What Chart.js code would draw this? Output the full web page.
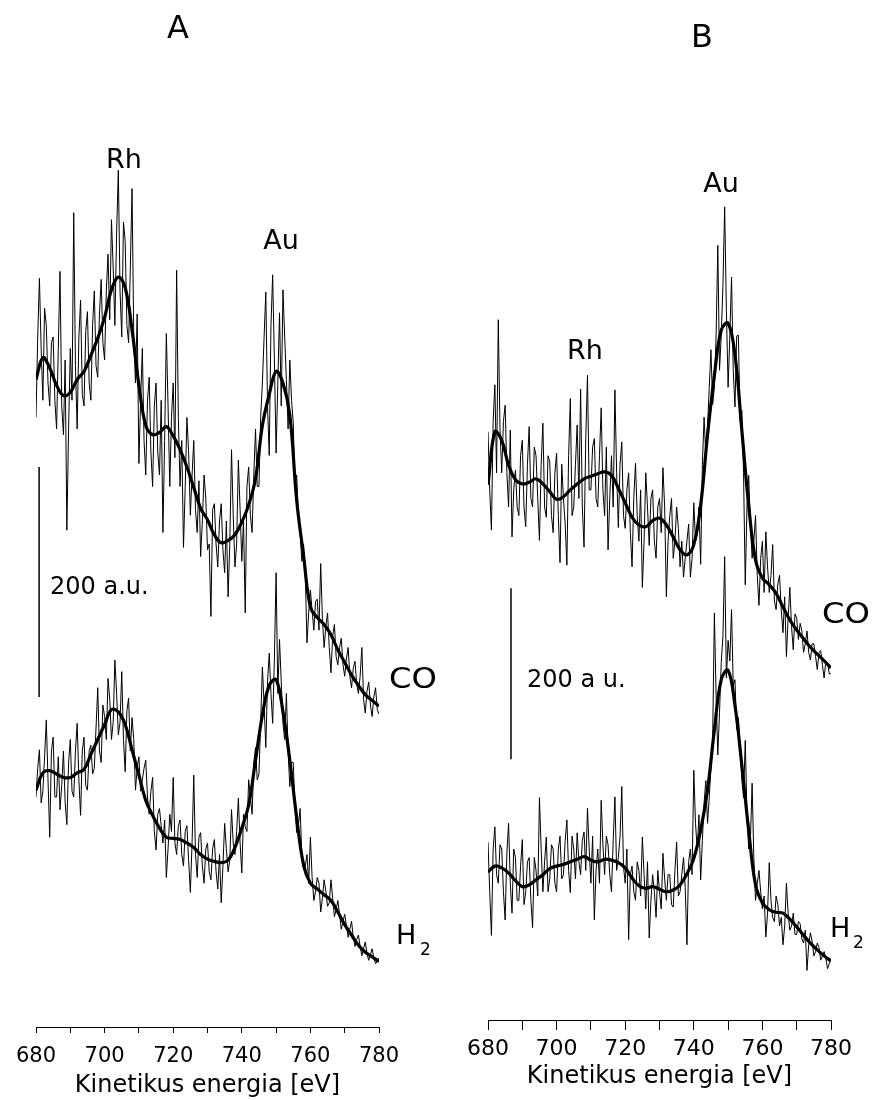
<!DOCTYPE html>
<html>
<head>
<meta charset="utf-8">
<script src="https://cdn.jsdelivr.net/npm/chart.js@4/dist/chart.umd.min.js"></script>
<style>
  html, body { margin: 0; padding: 0; background: #fff; }
  #wrap { position: relative; width: 873px; height: 1100px; }
  #wrap canvas { position: absolute; top: 0; }
  #panelA { left: 0; }
  #panelB { left: 450px; }
</style>
</head>
<body>
<div id="wrap">
  <canvas id="panelA" width="450" height="1100"></canvas>
  <canvas id="panelB" width="423" height="1100"></canvas>
</div>
<script>
// Kinetic energy grids (eV). Raw spectra are sampled every 0.5 eV and kept as
// two interleaved sets (whole and half eV); smoothed fits are given every 2 eV.
const energyWhole = [
  680,681,682,683,684,685,686,687,688,689,
  690,691,692,693,694,695,696,697,698,699,
  700,701,702,703,704,705,706,707,708,709,
  710,711,712,713,714,715,716,717,718,719,
  720,721,722,723,724,725,726,727,728,729,
  730,731,732,733,734,735,736,737,738,739,
  740,741,742,743,744,745,746,747,748,749,
  750,751,752,753,754,755,756,757,758,759,
  760,761,762,763,764,765,766,767,768,769,
  770,771,772,773,774,775,776,777,778,779,
  780
];
const energyHalf = [
  680.5,681.5,682.5,683.5,684.5,685.5,686.5,687.5,688.5,689.5,
  690.5,691.5,692.5,693.5,694.5,695.5,696.5,697.5,698.5,699.5,
  700.5,701.5,702.5,703.5,704.5,705.5,706.5,707.5,708.5,709.5,
  710.5,711.5,712.5,713.5,714.5,715.5,716.5,717.5,718.5,719.5,
  720.5,721.5,722.5,723.5,724.5,725.5,726.5,727.5,728.5,729.5,
  730.5,731.5,732.5,733.5,734.5,735.5,736.5,737.5,738.5,739.5,
  740.5,741.5,742.5,743.5,744.5,745.5,746.5,747.5,748.5,749.5,
  750.5,751.5,752.5,753.5,754.5,755.5,756.5,757.5,758.5,759.5,
  760.5,761.5,762.5,763.5,764.5,765.5,766.5,767.5,768.5,769.5,
  770.5,771.5,772.5,773.5,774.5,775.5,776.5,777.5,778.5,779.5
];
const energySmooth = [
  680,682,684,686,688,690,692,694,696,698,
  700,702,704,706,708,710,712,714,716,718,
  720,722,724,726,728,730,732,734,736,738,
  740,742,744,746,748,750,752,754,756,758,
  760,762,764,766,768,770,772,774,776,778,
  780
];

// Panel A, after CO (intensity, a.u.)
const rawA_CO_whole = [
  530,651,545,610,540,600,520,657,515,432,
  590,708,520,632,540,622,545,640,565,650,
  580,672,702,610,745,600,683,595,729,560,
  490,590,480,565,470,560,480,430,603,470,
  560,658,470,417,530,445,510,430,409,480,
  415,357,455,400,455,395,374,502,400,493,
  405,360,487,430,520,470,560,639,497,654,
  499,621,641,563,580,525,480,430,420,334,
  380,345,372,403,330,360,308,350,315,338,
  305,330,295,318,290,330,273,300,270,295,
  272
];
const rawA_CO_half = [
  600,590,625,560,595,545,590,540,580,520,
  545,575,600,550,605,560,610,575,620,595,
  640,615,660,690,640,700,610,660,600,620,
  545,510,545,500,540,500,545,510,540,530,
  495,530,510,470,500,480,450,475,440,460,
  420,450,420,440,415,440,420,445,420,450,
  440,470,445,480,470,530,600,540,610,580,
  560,540,600,520,545,470,445,405,395,360,
  362,370,345,355,348,330,340,322,330,315,
  320,305,312,298,305,285,292,280,287,276
];
const smoothA_CO = [
  563,582,573,558,549,552,563,570,584,599,
  617,641,652,643,606,558,523,515,517,522,
  514,502,487,469,451,441,428,421,423,428,
  439,454,477,523,550,570,560,532,458,410,
  365,356,350,341,328,317,306,297,289,284,
  279
];

// Panel A, after H2
const rawA_H2_whole = [
  200,241,205,267,165,252,200,189,240,176,
  250,200,264,184,252,206,245,225,295,230,
  270,303,250,319,254,309,222,286,269,206,
  235,215,232,185,217,154,190,160,130,185,
  217,150,180,140,175,117,219,130,169,125,
  160,128,163,120,108,177,135,189,150,199,
  134,174,215,185,243,220,313,243,325,264,
  395,337,264,290,209,230,169,190,137,150,
  165,110,130,100,128,105,128,96,110,85,
  98,78,92,70,80,62,74,58,68,55,
  60
];
const rawA_H2_half = [
  225,195,235,215,240,200,235,210,195,230,
  205,240,215,240,210,240,220,260,240,280,
  250,285,265,290,265,250,275,240,250,225,
  205,225,200,205,170,185,175,180,155,170,
  160,175,150,170,145,160,150,165,140,155,
  135,155,135,150,140,155,145,160,170,160,
  185,170,200,230,215,265,280,300,290,320,
  290,300,250,240,230,190,175,150,140,125,
  130,118,125,112,118,108,112,102,98,92,
  88,85,78,76,70,68,64,63,60,57
];
const smoothA_H2 = [
  206,221,223,220,217,217,221,224,237,250,
  263,276,274,263,241,219,197,184,173,165,
  164,163,160,156,150,146,144,143,145,156,
  173,193,232,271,297,302,274,232,182,141,
  125,120,115,110,100,89,80,71,65,61,
  57
];

// Panel B, after CO
const rawB_CO_whole = [
  688,573,743,819,640,719,600,565,643,590,
  678,577,694,600,660,561,698,588,653,570,
  663,535,610,532,727,600,696,738,553,754,
  620,680,600,716,590,550,660,737,576,676,
  575,640,530,651,560,506,640,555,620,540,
  610,646,495,590,540,600,530,518,560,518,
  605,570,533,705,694,784,740,906,801,951,
  740,869,717,801,713,509,637,540,590,485,
  560,571,500,556,480,520,453,425,506,433,
  470,464,430,455,421,440,410,432,400,418,
  405
];
const rawB_CO_half = [
  620,700,640,690,700,640,690,620,600,660,
  600,650,610,670,610,650,600,660,590,640,
  590,650,580,660,590,650,610,600,680,620,
  670,610,660,620,670,610,600,640,650,590,
  620,570,610,590,620,560,600,610,560,600,
  570,600,560,610,560,575,560,540,580,540,
  560,600,650,660,740,720,800,760,860,830,
  800,760,800,700,640,600,580,560,520,540,
  500,530,520,490,510,480,495,470,460,475,
  445,455,440,430,440,425,430,415,420,405
];
const smoothB_CO = [
  626,688,678,649,632,627,629,633,627,618,
  609,612,620,627,633,636,639,641,637,622,
  605,588,579,577,584,587,579,565,550,544,
  556,602,684,754,807,815,778,690,602,538,
  517,509,499,483,468,456,446,436,428,420,
  412
];

// Panel B, after H2
const rawB_H2_whole = [
  208,99,226,160,200,117,230,125,190,140,
  211,150,190,108,175,260,150,214,165,200,
  150,215,170,234,149,200,219,170,220,248,
  160,117,200,257,170,205,150,261,190,273,
  160,94,180,140,175,214,130,96,170,120,
  150,195,140,170,132,208,150,190,88,200,
  292,200,164,254,230,296,476,310,418,542,
  444,480,398,354,281,327,200,277,140,175,
  130,97,184,120,145,110,88,160,105,125,
  100,113,90,58,102,75,90,70,80,60,
  72
];
const rawB_H2_half = [
  150,200,170,205,150,195,160,200,140,180,
  135,185,140,190,145,200,185,150,205,160,
  200,165,210,175,215,165,185,210,175,200,
  215,175,160,205,215,170,210,175,215,180,
  200,170,150,185,145,170,185,140,150,175,
  130,165,170,135,175,145,170,155,185,170,
  230,240,210,280,260,330,380,360,450,400,
  420,390,340,320,260,240,210,190,160,150,
  145,125,140,115,135,120,110,125,110,100,
  115,95,105,88,92,80,85,75,72,66
];
const smoothB_H2 = [
  173,180,178,172,163,156,158,164,170,177,
  180,182,185,188,191,187,185,188,187,184,
  178,166,157,154,156,153,150,152,158,171,
  189,222,269,339,398,409,368,298,222,158,
  137,129,126,125,118,109,99,90,82,75,
  69
];

// Intensity scale bar (a.u.)
const scaleBarLength = 200;

// Energy axis ticks
const tickStep = 10;
const tickLabelEvery = 20;

const FONT = '"DejaVu Sans", "Liberation Sans", Arial, sans-serif';
Chart.defaults.font.family = FONT;
Chart.defaults.color = '#000';

function points(xs, ys) {
  return xs.map((x, i) => ({ x: x, y: ys[i] }));
}
// Merge the whole- and half-eV samples into one ordered trace
function rawTrace(whole, half) {
  return points(energyWhole, whole).concat(points(energyHalf, half)).sort((a, b) => a.x - b.x);
}

// Draws panel letters, peak names, gas labels and the scale-bar caption
const panelText = {
  id: 'panelText',
  afterDraw(chart, args, opts) {
    const ctx = chart.ctx;
    ctx.save();
    ctx.fillStyle = '#000';
    ctx.textBaseline = 'alphabetic';
    for (const t of opts.items || []) {
      ctx.save();
      ctx.font = t.size + 'px ' + FONT;
      ctx.textAlign = t.align || 'left';
      ctx.translate(t.x, t.y);
      ctx.scale(t.sx || 1, 1);
      ctx.fillText(t.text, 0, 0);
      ctx.restore();
    }
    ctx.restore();
  }
};

function makePanel(id, p) {
  const barData = [
    { x: p.bar.energy, y: p.bar.base },
    { x: p.bar.energy, y: p.bar.base + scaleBarLength }
  ];
  const smoothStyle = { borderColor: '#000', borderWidth: 3.2, pointRadius: 0, tension: 0.4, fill: false };
  const rawStyle = { borderColor: '#000', borderWidth: 1, pointRadius: 0, tension: 0, fill: false };
  return new Chart(document.getElementById(id), {
    type: 'line',
    data: {
      datasets: [
        Object.assign({ label: 'CO fit', data: points(energySmooth, p.smoothCO), order: 0 }, smoothStyle),
        Object.assign({ label: 'H2 fit', data: points(energySmooth, p.smoothH2), order: 0 }, smoothStyle),
        Object.assign({ label: 'CO', data: rawTrace(p.rawCO[0], p.rawCO[1]), order: 1 }, rawStyle),
        Object.assign({ label: 'H2', data: rawTrace(p.rawH2[0], p.rawH2[1]), order: 1 }, rawStyle),
        { label: 'scale', data: barData, borderColor: '#000', borderWidth: 1.5, pointRadius: 0, order: 2 }
      ]
    },
    options: {
      responsive: false,
      animation: false,
      events: [],
      layout: { padding: { left: p.padLeft, right: p.padRight, top: 0, bottom: 0 } },
      plugins: {
        legend: { display: false },
        tooltip: { enabled: false },
        panelText: { items: p.labels }
      },
      scales: {
        x: {
          type: 'linear',
          min: 680,
          max: 780,
          ticks: {
            stepSize: tickStep,
            autoSkip: false,
            maxRotation: 0,
            padding: p.tickPad,
            color: '#000',
            font: { size: p.tickSize },
            callback: v => (v % tickLabelEvery === 0 ? String(v) : '')
          },
          grid: { display: true, drawOnChartArea: false, drawTicks: true, tickLength: p.tickLen, color: '#000', lineWidth: 1 },
          border: { display: true, color: '#000', width: 1 },
          title: {
            display: true,
            text: 'Kinetikus energia [eV]',
            color: '#000',
            font: { size: 24 },
            padding: { top: 0, bottom: p.titlePad }
          },
          afterFit: s => { s.height = p.axisHeight; }
        },
        y: { display: false, min: 0, max: p.yMax }
      }
    },
    plugins: [panelText]
  });
}

makePanel('panelA', {
  rawCO: [rawA_CO_whole, rawA_CO_half], smoothCO: smoothA_CO,
  rawH2: [rawA_H2_whole, rawA_H2_half], smoothH2: smoothA_H2,
  bar: { energy: 680.9, base: 287 },
  padLeft: 36, padRight: 71, axisHeight: 73, yMax: 893,
  tickPad: 11, tickLen: 6, tickSize: 21, titlePad: 0,
  labels: [
    { text: 'A', x: 178, y: 38, size: 32, align: 'center' },
    { text: 'Rh', x: 124, y: 168, size: 27, align: 'center' },
    { text: 'Au', x: 281, y: 249, size: 27, align: 'center' },
    { text: '200 a.u.', x: 50, y: 594, size: 24 },
    { text: 'CO', x: 389, y: 688, size: 28, sx: 1.15 },
    { text: 'H', x: 396, y: 944, size: 27 },
    { text: '2', x: 420, y: 955, size: 17 }
  ]
});

makePanel('panelB', {
  rawCO: [rawB_CO_whole, rawB_CO_half], smoothCO: smoothB_CO,
  rawH2: [rawB_H2_whole, rawB_H2_half], smoothH2: smoothB_H2,
  bar: { energy: 686.7, base: 305 },
  padLeft: 38, padRight: 42, axisHeight: 80, yMax: 1193,
  tickPad: 6, tickLen: 10, tickSize: 22, titlePad: 9,
  labels: [
    { text: 'B', x: 252, y: 47, size: 32, align: 'center' },
    { text: 'Au', x: 271, y: 192, size: 27, align: 'center' },
    { text: 'Rh', x: 135, y: 359, size: 27, align: 'center' },
    { text: '200 a u.', x: 77, y: 687, size: 24 },
    { text: 'CO', x: 372, y: 623, size: 28, sx: 1.15 },
    { text: 'H', x: 380, y: 937, size: 27 },
    { text: '2', x: 403, y: 948, size: 17 }
  ]
});
</script>
</body>
</html>
